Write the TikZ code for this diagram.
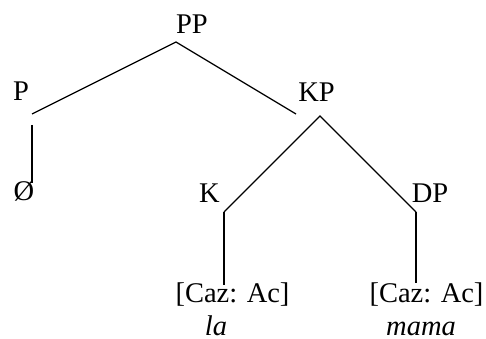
\documentclass[tikz,border=0pt]{standalone}
\usepackage{fontspec}
\setmainfont{Liberation Serif}
\begin{document}
\begin{tikzpicture}[x=1pt,y=-1pt,
  lbl/.style={anchor=base,inner sep=0pt,font=\fontsize{28.5}{30}\selectfont},
  edge/.style={line width=1.25pt,line cap=butt}]
\useasboundingbox (0,0) rectangle (486,339);
\node[lbl] (PP) at (192,33.3) {PP};
\node[lbl] (P) at (21,101) {P};
\node[lbl] (KP) at (316.5,101.5) {KP};
\node[lbl] (zero) at (24,200.5) {Ø};
\node[lbl] (K) at (209.5,202) {K};
\node[lbl] (DP) at (430,202) {DP};
\node[lbl] (fK) at (232.5,302) {[Caz: Ac]};
\node[lbl] (fD) at (426.5,302.5) {[Caz: Ac]};
\node[lbl] (la) at (216,335) {\itshape la};
\node[lbl] (mama) at (421,335) {\itshape mama};
\coordinate (PPt) at (176,42);
\coordinate (Pb) at (32,114);
\coordinate (Pt) at (32,125);
\coordinate (zt) at (32,183);
\coordinate (KPb) at (296,114);
\coordinate (KPt) at (320,116);
\coordinate (Kb) at (224,212);
\coordinate (Kv) at (224,285);
\coordinate (DPb) at (416,212);
\coordinate (DPv) at (416,283);
\draw[edge] (Pb) -- (PPt) -- (KPb);
\draw[edge] (Pt) -- (zt);
\draw[edge] (Kb) -- (KPt) -- (DPb);
\draw[edge] (Kb) -- (Kv);
\draw[edge] (DPb) -- (DPv);
\end{tikzpicture}
\end{document}
